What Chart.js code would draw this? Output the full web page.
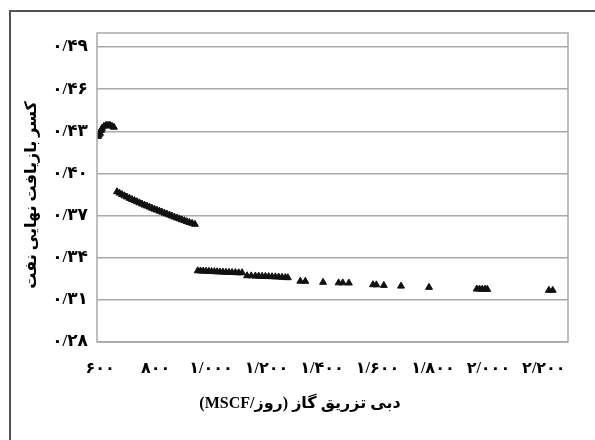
<!DOCTYPE html>
<html>
<head>
<meta charset="utf-8">
<script src="https://cdn.jsdelivr.net/npm/chart.js@4/dist/chart.umd.min.js"></script>
<style>
    html, body { margin: 0; padding: 0; background: #fff; }
    #wrap { position: relative; width: 595px; height: 440px; overflow: hidden; }
    #frame { position: absolute; left: 9px; top: 10px; width: 700px; height: 600px; border-left: 2px solid #555; border-top: 2px solid #555; }
    canvas { position: absolute; left: 0; top: 0; }
</style>
</head>
<body>
<div id="wrap">
    <div id="frame"></div>
    <canvas id="chart" width="595" height="440"></canvas>
</div>
<script>
// gas injection rate (MSCF/day) vs ultimate oil recovery factor
const rateStart = [593, 596, 600, 604, 607, 614, 622, 629, 636, 643, 650];
const recoveryStart = [0.4264, 0.4275, 0.4286, 0.4307, 0.4321, 0.4336, 0.4343, 0.4343, 0.4343, 0.4336, 0.4329];

const rateMid = [661, 670, 679, 688, 697, 706, 715, 724, 733, 742, 751, 760, 769, 778, 787, 796,
    805, 814, 823, 832, 841, 850, 859, 868, 877, 886, 895, 904, 913, 922, 932, 942];
const recoveryMid = [0.3870, 0.3860, 0.3850, 0.3841, 0.3832, 0.3823, 0.3815, 0.3807, 0.3799, 0.3791, 0.3783, 0.3775, 0.3768, 0.3761, 0.3753, 0.3746,
    0.3739, 0.3732, 0.3725, 0.3718, 0.3711, 0.3704, 0.3697, 0.3690, 0.3683, 0.3677, 0.3670, 0.3664, 0.3657, 0.3651, 0.3645, 0.3638];

const rateEnd = [952, 962, 972, 982, 992, 1002, 1012, 1022, 1032, 1043, 1054, 1065, 1076, 1088, 1100, 1112,
    1130, 1145, 1160, 1172, 1184, 1196, 1208, 1220, 1232, 1244, 1256, 1268, 1277,
    1322, 1340, 1404, 1460, 1475, 1497, 1584, 1596, 1623, 1685, 1786,
    1958, 1968, 1978, 1988, 1996, 2218, 2232];
const recoveryEnd = [0.3307, 0.3306, 0.3305, 0.3304, 0.3303, 0.3302, 0.3301, 0.3300, 0.3299, 0.3298, 0.3297, 0.3296, 0.3295, 0.3294, 0.3293, 0.3293,
    0.3272, 0.3271, 0.3270, 0.3269, 0.3268, 0.3267, 0.3266, 0.3265, 0.3264, 0.3263, 0.3261, 0.3259, 0.3258,
    0.3233, 0.3232, 0.3225, 0.3221, 0.3221, 0.3220, 0.3208, 0.3207, 0.3203, 0.3198, 0.3189,
    0.3177, 0.3177, 0.3176, 0.3176, 0.3175, 0.3168, 0.3168];

const xTickValues = [600, 800, 1000, 1200, 1400, 1600, 1800, 2000, 2200];
const xTickLabels = ['۶۰۰', '۸۰۰', '۱/۰۰۰', '۱/۲۰۰', '۱/۴۰۰', '۱/۶۰۰', '۱/۸۰۰', '۲/۰۰۰', '۲/۲۰۰'];
const yTickValues = [0.28, 0.31, 0.34, 0.37, 0.40, 0.43, 0.46, 0.49];
const yTickLabels = ['۰/۲۸', '۰/۳۱', '۰/۳۴', '۰/۳۷', '۰/۴۰', '۰/۴۳', '۰/۴۶', '۰/۴۹'];

const xTitle = 'دبی تزریق گاز (روز/MSCF)';
const yTitle = 'کسر بازیافت نهایی نفت';

const FONT = '"Liberation Serif", "DejaVu Sans", serif';
const GRID = '#a9a9a9';

const rates = rateStart.concat(rateMid, rateEnd);
const recovery = recoveryStart.concat(recoveryMid, recoveryEnd);
const points = rates.map((x, i) => ({ x: x, y: recovery[i] }));

const frameAndTitles = {
    id: 'frameAndTitles',
    afterDraw(chart) {
        const { ctx, chartArea } = chart;
        ctx.save();
        ctx.strokeStyle = GRID;
        ctx.lineWidth = 1.5;
        ctx.strokeRect(chartArea.left, chartArea.top, chartArea.right - chartArea.left, chartArea.bottom - chartArea.top);

        ctx.fillStyle = '#000';
        ctx.font = 'bold 16px ' + FONT;
        ctx.textAlign = 'center';
        ctx.textBaseline = 'middle';
        ctx.direction = 'rtl';
        ctx.fillText(xTitle, 300, 404);

        ctx.translate(32, 195);
        ctx.rotate(-Math.PI / 2);
        ctx.fillText(yTitle, 0, 0);
        ctx.restore();
    }
};

new Chart(document.getElementById('chart'), {
    type: 'scatter',
    data: {
        datasets: [{
            data: points,
            pointStyle: 'triangle',
            pointRadius: 4,
            backgroundColor: '#111',
            borderColor: '#111',
            borderWidth: 1
        }]
    },
    options: {
        responsive: false,
        animation: false,
        devicePixelRatio: 1,
        layout: { padding: { top: 33, right: 27, left: 0, bottom: 0 } },
        plugins: { legend: { display: false }, tooltip: { enabled: false } },
        scales: {
            x: {
                type: 'linear',
                min: 589,
                max: 2287,
                afterBuildTicks: (scale) => { scale.ticks = xTickValues.map(v => ({ value: v })); },
                afterFit: (scale) => { scale.height = 98; },
                grid: { display: false, drawTicks: false },
                border: { display: false },
                ticks: {
                    padding: 17,
                    maxRotation: 0,
                    autoSkip: false,
                    color: '#000',
                    font: { family: FONT, size: 16, weight: 'bold' },
                    callback: (v) => xTickLabels[xTickValues.indexOf(v)]
                }
            },
            y: {
                min: 0.28,
                max: 0.50,
                afterBuildTicks: (scale) => { scale.ticks = yTickValues.map(v => ({ value: v })); },
                afterFit: (scale) => { scale.width = 97; },
                grid: { color: GRID, lineWidth: 1.5, drawTicks: false },
                border: { display: false },
                ticks: {
                    padding: 9,
                    color: '#000',
                    font: { family: FONT, size: 17, weight: 'bold' },
                    callback: (v) => yTickLabels[yTickValues.indexOf(v)]
                }
            }
        }
    },
    plugins: [frameAndTitles]
});
</script>
</body>
</html>
